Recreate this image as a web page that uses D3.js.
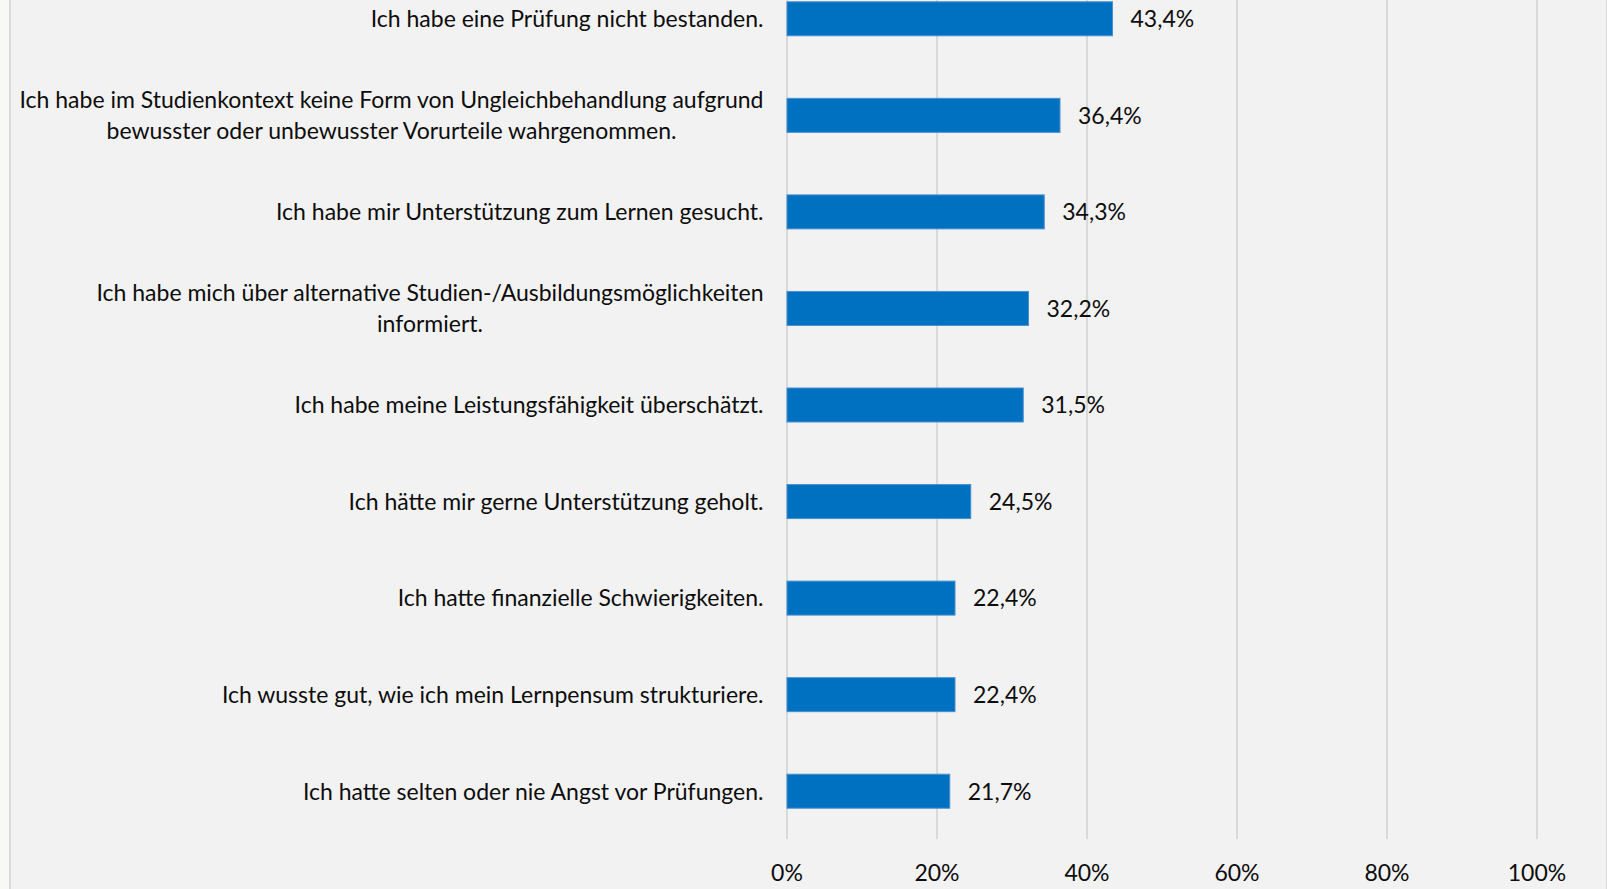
<!DOCTYPE html>
<html lang="de">
<head>
    <meta charset="UTF-8">
    <title>Balken</title>
    <script src="https://cdn.jsdelivr.net/npm/d3@7"></script>
    <style>
        html, body {
            margin: 0;
            padding: 0;
            background: #f8f8f6;
        }

        svg text {
            font-family: Lato, "Open Sans", sans-serif;
            font-size: 23px;
            fill: #0d0d0d;
        }

        .grid line {
            stroke: #d9d9d9;
            stroke-width: 2;
        }
    </style>
</head>
<body>
<svg width="1607" height="889"></svg>

<script>
    // categories (top to bottom), each an array of text lines
    var categories = [
        ["Ich habe eine Prüfung nicht bestanden."],
        ["Ich habe im Studienkontext keine Form von Ungleichbehandlung aufgrund",
            "bewusster oder unbewusster Vorurteile wahrgenommen."],
        ["Ich habe mir Unterstützung zum Lernen gesucht."],
        ["Ich habe mich über alternative Studien-/Ausbildungsmöglichkeiten",
            "informiert."],
        ["Ich habe meine Leistungsfähigkeit überschätzt."],
        ["Ich hätte mir gerne Unterstützung geholt."],
        ["Ich hatte finanzielle Schwierigkeiten."],
        ["Ich wusste gut, wie ich mein Lernpensum strukturiere."],
        ["Ich hatte selten oder nie Angst vor Prüfungen."]
    ];

    var values = [43.4, 36.4, 34.3, 32.2, 31.5, 24.5, 22.4, 22.4, 21.7];

    var ticks = [0, 20, 40, 60, 80, 100];

    var de = d3.formatLocale({decimal: ",", thousands: ".", grouping: [3], currency: ["", " €"]});
    var fmtValue = de.format(".1f");

    var svg = d3.select("svg"),
        width = +svg.attr("width"),
        height = +svg.attr("height");

    // chart area background with thin borders
    svg.append("rect")
        .attr("x", 10)
        .attr("y", 0)
        .attr("width", width - 10)
        .attr("height", height)
        .attr("fill", "#f2f2f2");

    svg.append("line")
        .attr("x1", 10).attr("x2", 10)
        .attr("y1", 0).attr("y2", height)
        .attr("stroke", "#d9d9d9")
        .attr("stroke-width", 2);

    svg.append("line")
        .attr("x1", width - 0.5).attr("x2", width - 0.5)
        .attr("y1", 0).attr("y2", height)
        .attr("stroke", "#d9d9d9")
        .attr("stroke-width", 1);

    var x = d3.scaleLinear()
        .domain([0, 100])
        .range([787, 1537]);

    var y = d3.scaleBand()
        .domain(d3.range(categories.length))
        .range([-29.5, 839.5])
        .paddingInner(0.648)
        .paddingOuter(0.324);

    // gridlines
    svg.append("g")
        .attr("class", "grid")
        .selectAll("line")
        .data(ticks)
        .enter()
        .append("line")
        .attr("x1", function (d) { return x(d); })
        .attr("x2", function (d) { return x(d); })
        .attr("y1", 0)
        .attr("y2", 839);

    // bars
    svg.append("g")
        .selectAll("rect")
        .data(values)
        .enter()
        .append("rect")
        .attr("x", x(0))
        .attr("y", function (d, i) { return y(i); })
        .attr("width", function (d) { return x(d) - x(0); })
        .attr("height", y.bandwidth())
        .attr("fill", "#0070c0")
        .attr("stroke", "#4a90d0")
        .attr("stroke-width", 1);

    // value labels
    svg.append("g")
        .selectAll("text")
        .data(values)
        .enter()
        .append("text")
        .attr("x", function (d) { return x(d) + 18; })
        .attr("y", function (d, i) { return y(i) + y.bandwidth() / 2; })
        .attr("dy", "0.36em")
        .text(function (d) { return fmtValue(d) + "%"; });

    // category labels: block right-aligned, lines centered inside block
    var labelRight = 763.5,
        lineGap = 30.7;

    var labelGroups = svg.append("g")
        .selectAll("g")
        .data(categories)
        .enter()
        .append("g");

    labelGroups.each(function (lines, i) {
        var g = d3.select(this);
        var cy = y(i) + y.bandwidth() / 2;
        var texts = g.selectAll("text")
            .data(lines)
            .enter()
            .append("text")
            .attr("y", function (d, j) { return cy + (j - (lines.length - 1) / 2) * lineGap; })
            .attr("dy", "0.36em")
            .attr("text-anchor", "middle")
            .text(function (d) { return d; });

        var maxW = 0;
        texts.each(function () {
            maxW = Math.max(maxW, this.getComputedTextLength());
        });
        texts.attr("x", labelRight - maxW / 2);
    });

    // x axis tick labels
    svg.append("g")
        .selectAll("text")
        .data(ticks)
        .enter()
        .append("text")
        .attr("x", function (d) { return x(d); })
        .attr("y", 873)
        .attr("dy", "0.36em")
        .attr("text-anchor", "middle")
        .text(function (d) { return d + "%"; });
</script>
</body>
</html>
